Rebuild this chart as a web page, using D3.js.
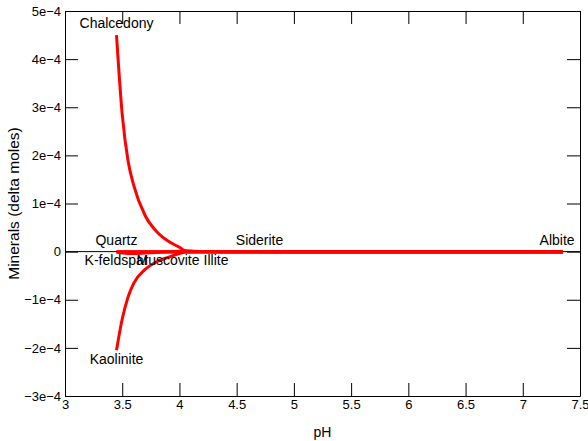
<!DOCTYPE html>
<html>
<head>
<meta charset="utf-8">
<script src="https://cdn.jsdelivr.net/npm/d3@7"></script>
<style>
  body { margin: 0; background: #fff; }
  text { font-family: "Liberation Sans", Arial, sans-serif; fill: #000; }
</style>
</head>
<body>
<svg id="drawing_region"></svg>
<script>
// pH steps of the reaction path
const pH = [3.45, 3.5, 3.55, 3.6, 3.7, 3.8, 3.9, 4.0, 4.05, 4.3, 4.7, 5, 5.5, 6, 6.5, 7, 7.35];

// mineral changes (delta moles), null = mineral not present
const chalcedony = [4.5e-4, 2.85e-4, 1.9e-4, 1.38e-4, 0.75e-4, 0.42e-4, 0.22e-4, 0.09e-4, 0.02e-4, 0, 0, 0, 0, 0, 0, 0, 0];
const kaolinite  = [-2.05e-4, -1.4e-4, -0.95e-4, -0.66e-4, -0.37e-4, -0.21e-4, -0.12e-4, -0.04e-4, -0.01e-4, 0, 0, 0, 0, 0, 0, 0, 0];
const quartz     = [0, 0, 0, 0, 0, 0, 0, 0, 0, 0, 0, 0, 0, 0, 0, 0, 0];
const kfeldspar  = [-0.01e-4, -0.03e-4, -0.04e-4, -0.04e-4, -0.03e-4, -0.02e-4, -0.01e-4, 0, 0, 0, 0, 0, 0, 0, 0, 0, 0];
const muscovite  = [null, null, null, null, null, null, 0, 0.01e-4, 0.01e-4, 0, 0, 0, 0, 0, 0, 0, 0];
const illite     = [null, null, null, null, null, null, null, null, null, 0, 0, 0, 0, 0, 0, 0, 0];
const siderite   = [null, null, null, null, null, null, null, null, null, null, 0, 0, 0, 0, 0, 0, 0];
const albite     = [0, 0, 0, 0, 0, 0, 0, 0, 0, 0, 0, 0, 0, 0, 0, 0, 0];

// labels: name, pH and value of anchor, above/below
const labelNames = ["Chalcedony", "Quartz", "K-feldspar", "Muscovite", "Illite", "Siderite", "Albite", "Kaolinite"];
const labelPH    = [3.45, 3.45, 3.45, 3.9, 4.32, 4.7, 7.3, 3.45];
const labelValue = [4.5e-4, 0, 0, 0, 0, 0, 0, -2.05e-4];
const labelSide  = ["above", "above", "below", "below", "below", "above", "above", "below"];

const xTicks = [3, 3.5, 4, 4.5, 5, 5.5, 6, 6.5, 7, 7.5];
const yTicks = [-3e-4, -2e-4, -1e-4, 0, 1e-4, 2e-4, 3e-4, 4e-4, 5e-4];

const series = [chalcedony, kaolinite, quartz, kfeldspar, muscovite, illite, siderite, albite];

const width = 588, height = 441;
const margin = {top: 11, right: 8, bottom: 45, left: 65};
const innerW = width - margin.left - margin.right;
const innerH = height - margin.top - margin.bottom;

const svg = d3.select('#drawing_region')
    .attr('width', width)
    .attr('height', height);

const chart = svg.append('g')
    .attr('transform', `translate(${margin.left}, ${margin.top})`);

const x = d3.scaleLinear().domain([3, 7.5]).range([0, innerW]);
const y = d3.scaleLinear().domain([-3e-4, 5e-4]).range([innerH, 0]);

const yFmt = v => {
    if (v === 0) return '0';
    const e = Math.round(v / 1e-4);
    return (e < 0 ? '\u2212' + (-e) : e) + 'e\u22124';
};

// zero line
chart.append('line')
    .attr('x1', 0).attr('x2', innerW)
    .attr('y1', y(0)).attr('y2', y(0))
    .attr('stroke', 'black').attr('stroke-width', 1);

// axes with inward ticks on all sides
const tickLen = 13;
chart.append('g')
    .attr('transform', `translate(0, ${innerH})`)
    .call(d3.axisBottom(x).tickValues(xTicks).tickSizeInner(-tickLen).tickSizeOuter(0).tickPadding(4).tickFormat(d3.format('')))
    .call(g => g.selectAll('text').attr('font-size', 13));
chart.append('g')
    .call(d3.axisTop(x).tickValues(xTicks).tickSizeInner(-tickLen).tickSizeOuter(0).tickFormat(''));
chart.append('g')
    .call(d3.axisLeft(y).tickValues(yTicks).tickSizeInner(-tickLen).tickSizeOuter(0).tickPadding(4).tickFormat(yFmt))
    .call(g => g.selectAll('.tick text').attr('x', -4).attr('font-size', 13));
chart.append('g')
    .attr('transform', `translate(${innerW}, 0)`)
    .call(d3.axisRight(y).tickValues(yTicks).tickSizeInner(-tickLen).tickSizeOuter(0).tickFormat(''));

chart.selectAll('.domain').attr('stroke', 'black');
chart.selectAll('.tick line').attr('stroke', 'black');
chart.selectAll('.tick text').attr('fill', 'black').style('font-family', '"Liberation Sans", Arial, sans-serif');

// lines
const line = d3.line()
    .defined(d => d[1] !== null)
    .x(d => x(d[0]))
    .y(d => y(d[1]))
    .curve(d3.curveMonotoneX);

chart.selectAll('path.mineral')
    .data(series)
    .enter()
    .append('path')
    .attr('class', 'mineral')
    .attr('d', s => line(pH.map((p, i) => [p, s[i]])))
    .attr('fill', 'none')
    .attr('stroke', '#ff0000')
    .attr('stroke-width', 3);

// labels
chart.selectAll('text.label')
    .data(labelNames)
    .enter()
    .append('text')
    .attr('class', 'label')
    .attr('x', (d, i) => x(labelPH[i]))
    .attr('y', (d, i) => y(labelValue[i]) + (labelSide[i] === 'above' ? -7 : 13.5))
    .attr('text-anchor', 'middle')
    .attr('font-size', 14)
    .text(d => d);

// axis titles
svg.append('text')
    .attr('x', margin.left + innerW / 2)
    .attr('y', 437)
    .attr('text-anchor', 'middle')
    .attr('font-size', 14)
    .text('pH');

svg.append('text')
    .attr('transform', `translate(19, ${margin.top + y(1e-4)}) rotate(-90)`)
    .attr('text-anchor', 'middle')
    .attr('font-size', 15.5)
    .text('Minerals (delta moles)');
</script>
</body>
</html>
